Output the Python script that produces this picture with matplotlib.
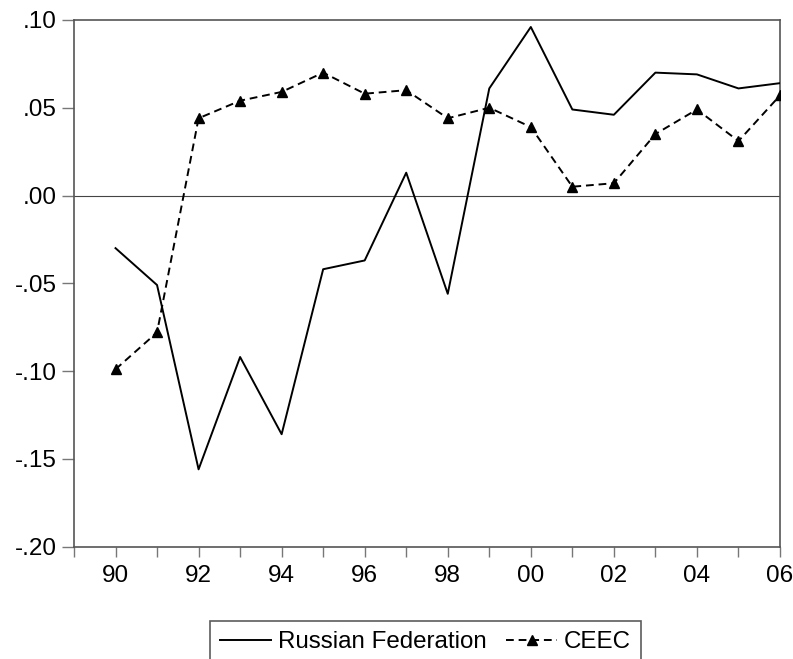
import matplotlib.pyplot as plt
import numpy as np
from matplotlib.ticker import FixedLocator, FuncFormatter

plt.rcParams['font.family'] = ['Liberation Sans', 'DejaVu Sans']

# annual series, 1990-2006
years = np.arange(1990, 2007)
russia = [-0.030, -0.051, -0.156, -0.092, -0.136, -0.042, -0.037, 0.013,
          -0.056, 0.061, 0.096, 0.049, 0.046, 0.070, 0.069, 0.061, 0.064]
ceec = [-0.099, -0.078, 0.044, 0.054, 0.059, 0.070, 0.058, 0.060,
        0.044, 0.050, 0.039, 0.005, 0.007, 0.035, 0.049, 0.031, 0.057]

yticks = [0.10, 0.05, 0.00, -0.05, -0.10, -0.15, -0.20]

fig = plt.figure(figsize=(7.93, 6.59), dpi=100)
ax = fig.add_axes([0.0933, 0.1706, 0.8903, 0.7991])

ax.axhline(0, color='#444444', lw=0.8, zorder=1)

ax.plot(years, russia, '-', color='black', lw=1.4, label='Russian Federation', zorder=3)
ax.plot(years, ceec, '--', color='black', lw=1.4, dashes=(4, 2.5),
        marker='^', markersize=7, label='CEEC', zorder=3)

ax.set_xlim(1989, 2006)
ax.set_ylim(-0.20, 0.10)

# one tick per year, labels on even years only
ax.xaxis.set_major_locator(FixedLocator(np.arange(1989, 2007)))
ax.xaxis.set_major_formatter(FuncFormatter(
    lambda v, p: '%02d' % (int(round(v)) % 100) if int(round(v)) % 2 == 0 else ''))
ax.set_yticks(yticks)
ax.yaxis.set_major_formatter(FuncFormatter(
    lambda v, p: ('%.2f' % v).replace('0.', '.') if abs(v) > 1e-9 else '.00'))

ax.tick_params(axis='x', direction='out', length=7, width=1, color='#777777',
               labelsize=17.5, pad=6)
ax.tick_params(axis='y', direction='out', length=8.5, width=1, color='#777777',
               labelsize=17.5, pad=4)

for s in ax.spines.values():
    s.set_color('#555555')
    s.set_linewidth(1.2)

leg = fig.legend(loc='upper center', bbox_to_anchor=(0.5366, 0.0577), ncol=2,
                 fontsize=17.4, frameon=True, fancybox=False, handlelength=2.08,
                 handletextpad=0.29, columnspacing=0.83, borderpad=0.42,
                 borderaxespad=0)
leg.get_frame().set_edgecolor('#333333')
leg.get_frame().set_linewidth(1.2)

plt.savefig('out.png', dpi=100)
